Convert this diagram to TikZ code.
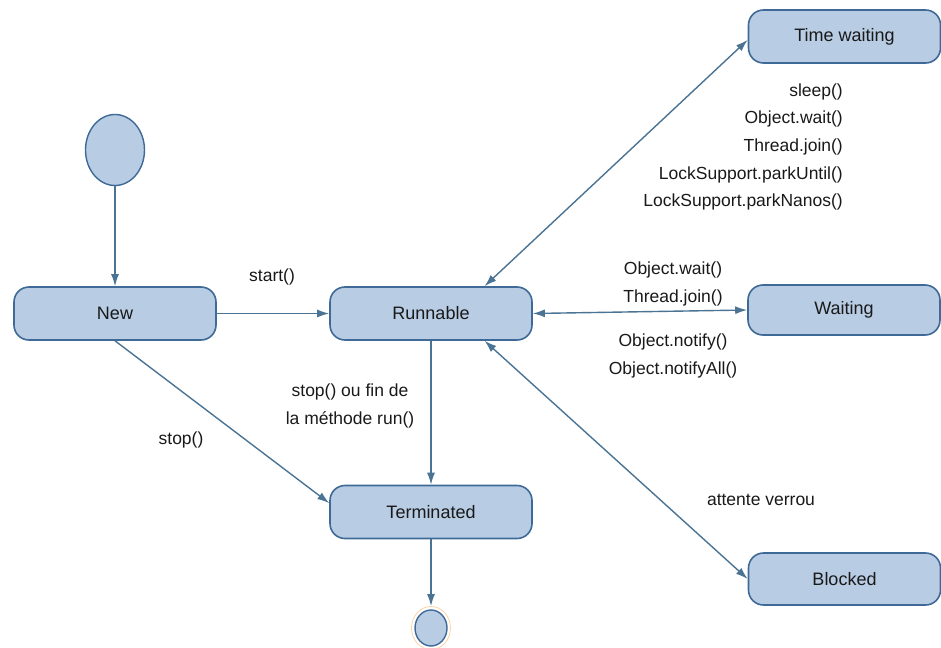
\documentclass[tikz,border=0pt]{standalone}
\usepackage{fontspec}
\setmainfont{Liberation Sans}
\usetikzlibrary{arrows.meta,shapes.geometric}
\definecolor{boxfill}{HTML}{B8CCE4}
\definecolor{boxline}{HTML}{3F6A97}
\definecolor{edgecol}{HTML}{4A7394}
\begin{document}
\begin{tikzpicture}[x=1pt,y=-1pt,
  state/.style={draw=boxline,fill=boxfill,line width=1.6pt,rounded corners=15pt,
    minimum width=202pt,minimum height=53pt,inner sep=0pt,
    font=\fontsize{18}{22}\selectfont,text=black!90},
  pseudo/.style={ellipse,draw=boxline,fill=boxfill,line width=1.4pt,inner sep=0pt},
  conn/.style={draw=edgecol,line width=1.4pt,-{Latex[length=12pt,width=8pt]}},
  biconn/.style={draw=edgecol,line width=1.4pt,{Latex[length=12pt,width=8pt]}-{Latex[length=12pt,width=8pt]}},
  lbl/.style={font=\fontsize{17.5}{27.7}\selectfont,text=black!90,inner sep=0pt}]
\useasboundingbox (0,0) rectangle (941,647);
\begin{scope}
\clip (0,0) rectangle (941,647);
% nodes
\node[pseudo,minimum width=59pt,minimum height=71pt] (init) at (115,150) {};
\node[state] (new) at (115,313.5) {New};
\node[state] (run) at (431,313.5) {Runnable};
\node[state] (term) at (431,512) {Terminated};
\node[state,minimum width=192pt] (tw) at (844.5,36.5) {Time waiting};
\node[state,minimum width=192pt,minimum height=50pt] (wt) at (844,310) {Waiting};
\node[state,minimum width=192pt,minimum height=52pt] (bl) at (844.5,579) {Blocked};
\node[ellipse,draw=orange!35,line width=0.8pt,minimum width=39pt,minimum height=43pt,inner sep=0pt] (finring) at (431,628) {};
\node[pseudo,minimum width=32pt,minimum height=36pt] (fin) at (431,628) {};
% connectors
\draw[conn] (init.south) -- (new.north);
\draw[conn] (new.east) -- (run.west);
\draw[conn] (new.south) -- (term.175);
\draw[conn] (run.south) -- (term.north);
\draw[conn] (term.south) -- (finring.north);
\draw[biconn] (run.27) -- (tw.182);
\draw[biconn] (run.east) -- (wt.west);
\draw[biconn] (run.-27) -- (bl.west);
% labels
\node[lbl] (lstart) at (272,277) {start()};
\node[lbl] (lstop) at (181,440) {stop()};
\node[lbl,align=center] (lend) at (350,406) {stop() ou fin de\\la méthode run()};
\node[lbl,align=right,anchor=east] (ltw) at (843,147) {sleep()\\Object.wait()\\Thread.join()\\LockSupport.parkUntil()\\LockSupport.parkNanos()};
\node[lbl,align=center] (lwt) at (673,284) {Object.wait()\\Thread.join()};
\node[lbl,align=center] (lnot) at (673,356) {Object.notify()\\Object.notifyAll()};
\node[lbl] (lbl1) at (761,500) {attente verrou};
\end{scope}
\end{tikzpicture}
\end{document}
